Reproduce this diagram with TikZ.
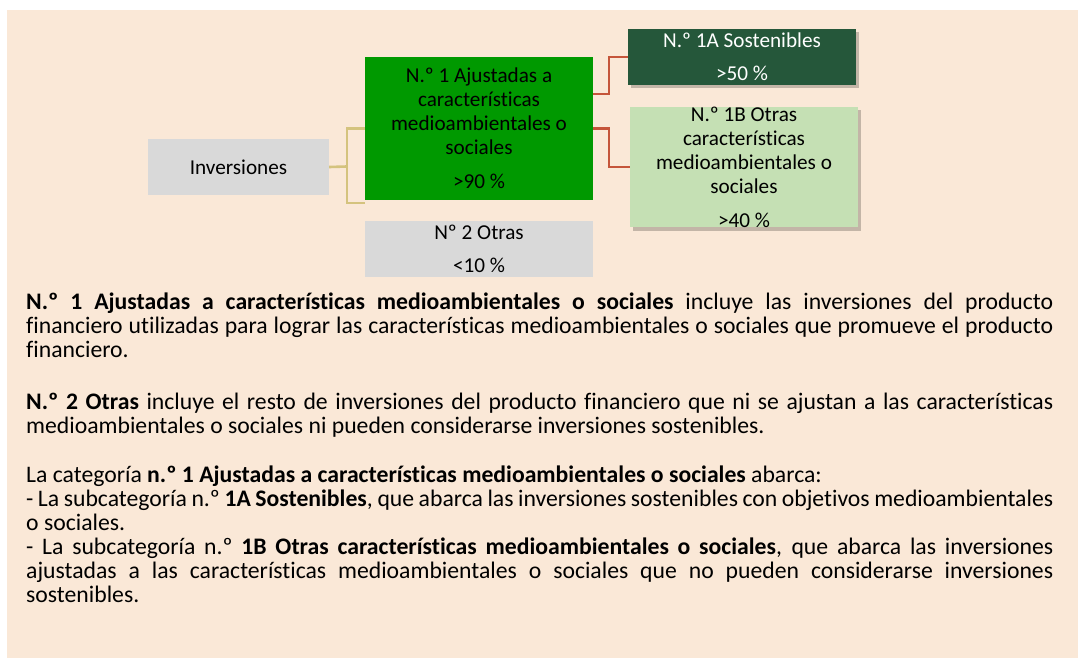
\documentclass[tikz,border=0pt]{standalone}
\usepackage{fontspec}
\setmainfont{Carlito}[Ligatures={NoCommon}]
\usetikzlibrary{shadows}
\definecolor{peach}{HTML}{FAE8D7}
\definecolor{boxgray}{HTML}{D9D9D9}
\definecolor{midgreen}{HTML}{009900}
\definecolor{darkgreen}{HTML}{25573A}
\definecolor{lightgreen}{HTML}{C5E0B4}
\definecolor{tanline}{HTML}{D4C37E}
\definecolor{redline}{HTML}{C5553A}
\newcommand\firststrut{\rule{0pt}{18pt}}
\newcommand\parafont{\fontsize{23.7}{24.1}\selectfont\parindent=0pt\relax}
\begin{document}
\begin{tikzpicture}[x=1pt,y=-1pt,
  box/.style={draw=none, inner sep=0pt, align=center, minimum width=228pt,
    font=\fontsize{21.2}{24}\selectfont},
  shadowed/.style={drop shadow={shadow xshift=3pt, shadow yshift=-3.5pt, fill=black, opacity=0.22}},
  para/.style={anchor=north west, inner sep=0pt, text width=1027pt, align=justify,
    font=\parafont},
  tanconn/.style={draw=tanline, line width=2.6pt},
  redconn/.style={draw=redline, line width=2.2pt}]
\useasboundingbox (0,0) rectangle (1078,658);
\fill[white] (0,0) rectangle (1078,658);
\fill[peach] (7,10) rectangle (1078,658);

% boxes
\node[box, fill=boxgray, minimum width=181pt, minimum height=56pt] (inv) at (238.5,167) {Inversiones};
\node[box, fill=midgreen, minimum height=143pt] (g) at (479,128.5)
  {N.º 1 Ajustadas a\\características\\medioambientales o\\sociales\\[10pt]>90 \%};
\node[box, fill=boxgray, minimum height=56pt] (n2) at (479,249) {Nº 2 Otras\\[9pt]<10 \%};
\node[box, shadowed, fill=darkgreen, text=white, minimum height=56pt] (s1) at (742,57)
  {N.º 1A Sostenibles\\[9pt]>50 \%};
\node[box, shadowed, fill=lightgreen, minimum height=118pt] (s2) at (744,167)
  {N.º 1B Otras\\características\\medioambientales o\\sociales\\[10pt]>40 \%};

% connectors
\coordinate (j) at (347,166.5);
\coordinate (c2) at (365,203);
\draw[tanconn] (inv.east) -- (j);
\draw[tanconn] (g.west) -| (j |- c2) -- (c2);
\coordinate (g1) at (593,94);
\draw[redconn] (g1) -- ++(16,0) |- (s1.west);
\draw[redconn] (g.east) -- ++(16,0) |- (s2.west);

% text
\node[para] (p1) at (26,291) {\firststrut\textbf{N.º 1 Ajustadas a características medioambientales o sociales} incluye las inversiones del producto\linebreak financiero utilizadas para lograr las características medioambientales o sociales que promueve el producto\linebreak financiero.};
\node[para] (p2) at (26,391) {\firststrut\textbf{N.º 2 Otras} incluye el resto de inversiones del producto financiero que ni se ajustan a las características\linebreak medioambientales o sociales ni pueden considerarse inversiones sostenibles.};
\node[para] (p3) at (26,464) {\firststrut La categoría \textbf{n.º 1 Ajustadas a características medioambientales o sociales} abarca:\par
- La subcategoría n.º \textbf{1A Sostenibles}, que abarca las inversiones sostenibles con objetivos medioambientales\linebreak o sociales.\par
- La subcategoría n.º \textbf{1B Otras características medioambientales o sociales}, que abarca las inversiones\linebreak ajustadas a las características medioambientales o sociales que no pueden considerarse inversiones\linebreak sostenibles.};
\end{tikzpicture}
\end{document}
